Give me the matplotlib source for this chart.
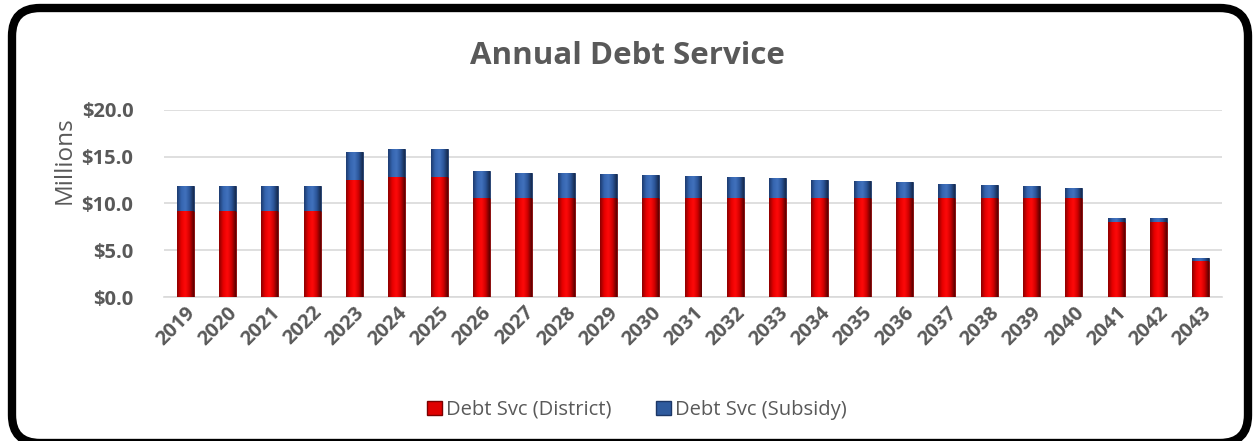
import matplotlib

matplotlib.use("Agg")
import matplotlib.pyplot as plt
import numpy as np
from matplotlib.colors import LinearSegmentedColormap
from matplotlib.patches import FancyBboxPatch, Patch
from matplotlib.ticker import FuncFormatter

plt.rcParams["font.family"] = ["Open Sans", "DejaVu Sans"]

# Annual debt service in $ millions
years = [str(y) for y in range(2019, 2044)]
district = [9.2, 9.2, 9.2, 9.2, 12.5, 12.8, 12.8,
            10.55, 10.55, 10.55, 10.55, 10.55, 10.55, 10.55, 10.55, 10.55,
            10.55, 10.55, 10.55, 10.55, 10.55, 10.55, 8.05, 8.05, 3.9]
subsidy_total = [11.9, 11.9, 11.9, 11.9, 15.5, 15.8, 15.8,
                 13.5, 13.3, 13.25, 13.2, 13.05, 12.95, 12.8, 12.7, 12.55,
                 12.45, 12.3, 12.1, 12.0, 11.85, 11.65, 8.5, 8.5, 4.15]
subsidy = [t - d for t, d in zip(subsidy_total, district)]

RED = "#e00000"
RED_EDGE = "#7a0000"
BLUE = "#2f5b9e"
BLUE_EDGE = "#1c3766"
GREY = "#595959"

# bevel look: dark edges, bright middle
RED_BEVEL = LinearSegmentedColormap.from_list(
    "red_bevel", ["#8a0000", "#e80000", "#ff0a0a", "#d00000", "#5a0000"])
BLUE_BEVEL = LinearSegmentedColormap.from_list(
    "blue_bevel", ["#1d3a6e", "#3565b0", "#4272bd", "#2b569a", "#16294d"])


def shade(ax, bars, cmap):
    """Paint each bar with a horizontal gradient clipped to its outline."""
    grad = np.linspace(0, 1, 64).reshape(1, -1)
    for b in bars:
        x0, y0 = b.get_x(), b.get_y()
        im = ax.imshow(grad, cmap=cmap, aspect="auto", interpolation="bicubic",
                       extent=(x0, x0 + b.get_width(), y0, y0 + b.get_height()),
                       zorder=3)
        im.set_clip_path(b)


fig = plt.figure(figsize=(12.54, 4.41), dpi=100, facecolor="white")

# rounded black frame round the whole chart
frame = FancyBboxPatch((12, -2), 1236, 435, boxstyle="round,pad=0,rounding_size=28",
                       transform=None, facecolor="white", edgecolor="black",
                       linewidth=6, zorder=-5)
fig.patches.append(frame)

ax = fig.add_axes([164 / 1254, 1 - 297 / 441, (1222 - 164) / 1254, (297 - 110) / 441])
ax.set_facecolor("none")
ax.set_zorder(2)

x = np.arange(len(years))
w = 0.4
red_bars = ax.bar(x, district, w, color=RED, edgecolor=RED_EDGE, linewidth=0.6, zorder=3)
blue_bars = ax.bar(x, subsidy, w, bottom=district, color=BLUE, edgecolor=BLUE_EDGE,
                   linewidth=0.6, zorder=3)
shade(ax, red_bars, RED_BEVEL)
shade(ax, blue_bars, BLUE_BEVEL)

ax.set_xlim(-0.5, len(years) - 0.5)
ax.set_ylim(0, 20)
ax.set_yticks([0, 5, 10, 15, 20])
ax.yaxis.set_major_formatter(FuncFormatter(lambda v, _: f"${v:.1f}"))
ax.grid(axis="y", color="#d9d9d9", linewidth=1.2, zorder=0)
for s in ["top", "right", "left"]:
    ax.spines[s].set_visible(False)
ax.spines["bottom"].set_color("#d9d9d9")
ax.spines["bottom"].set_linewidth(1.2)
ax.tick_params(length=0)
ax.tick_params(axis="y", pad=22)
ax.tick_params(axis="x", pad=4)

ax.set_xticks(x)
ax.set_xticklabels(years, rotation=45, ha="right", rotation_mode="anchor")
for lbl in ax.get_xticklabels() + ax.get_yticklabels():
    lbl.set_fontsize(14.5)
    lbl.set_fontweight("bold")
    lbl.set_color(GREY)

ax.set_ylabel("Millions", fontsize=17.5, color=GREY)
ax.yaxis.set_label_coords(-0.083, 0.73)

fig.text(0.5, 1 - 56 / 441, "Annual Debt Service", ha="center", va="center",
         fontsize=22.5, fontweight="bold", color=GREY, zorder=3)

handles = [Patch(facecolor=RED, edgecolor=RED_EDGE, label="Debt Svc (District)"),
           Patch(facecolor=BLUE, edgecolor=BLUE_EDGE, label="Debt Svc (Subsidy)")]
leg = fig.legend(handles=handles, loc="center", bbox_to_anchor=(0.508, 1 - 410 / 441),
                 ncol=2, frameon=False, fontsize=14.5, handlelength=0.75,
                 handleheight=0.75, handletextpad=0.2, columnspacing=2.2,
                 labelcolor=GREY)
leg.set_zorder(3)

fig.savefig("out.png", dpi=100, facecolor="white")
